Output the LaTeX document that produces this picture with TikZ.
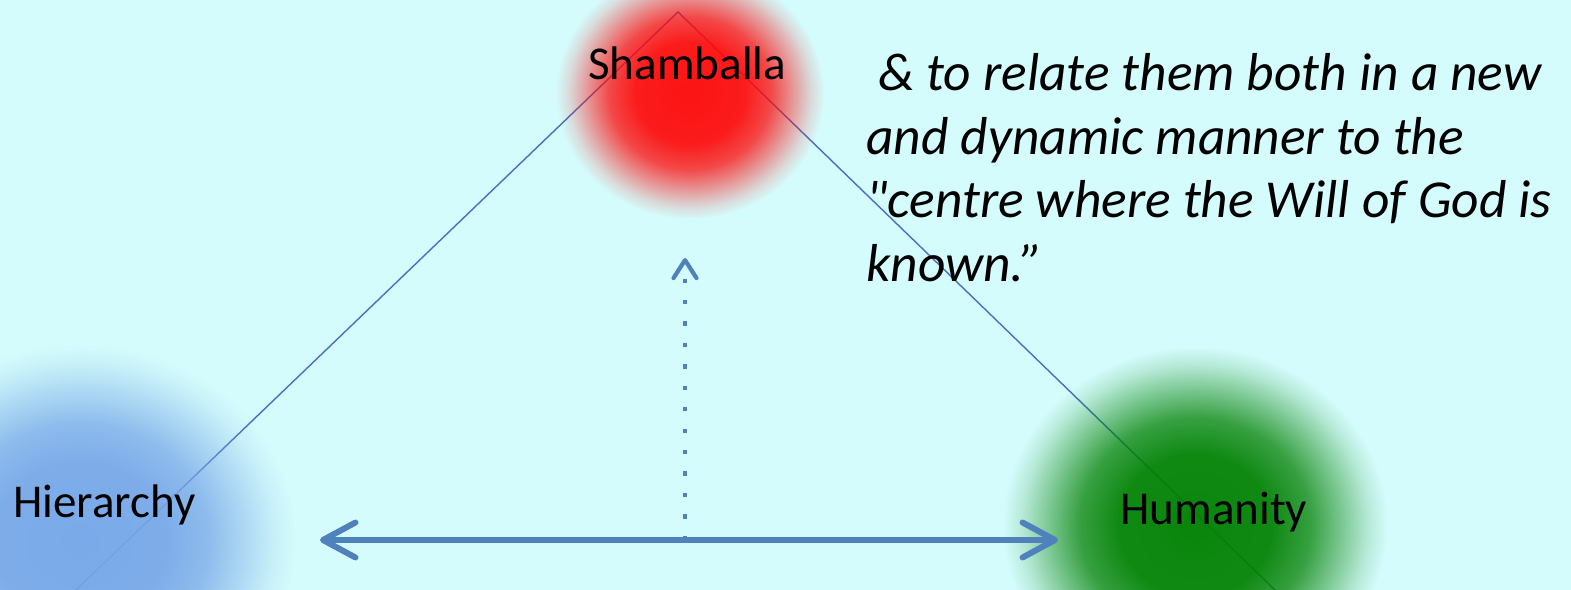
\documentclass[tikz,border=0pt]{standalone}
\usepackage{fontspec}
\setmainfont{Carlito}[Ligatures=TeXOff]
\usepackage{tikz}
\usetikzlibrary{arrows.meta,fadings}
\definecolor{tribg}{RGB}{213,252,252}
\definecolor{triline}{RGB}{72,112,190}
\definecolor{triarrow}{RGB}{79,129,189}
\definecolor{trired}{RGB}{255,8,8}
\definecolor{triblue}{RGB}{118,166,232}
\definecolor{trigreen}{RGB}{0,128,0}

% soft edge for the three glows (path edge sits at 25bp)
\pgfdeclareradialshading{glowmask}{\pgfpoint{0bp}{0bp}}{%
  color(0bp)=(white!95!black); color(10bp)=(white!92!black);
  color(15bp)=(white!74!black); color(19bp)=(white!42!black);
  color(22.5bp)=(white!14!black); color(25bp)=(black); color(50bp)=(black)}
\pgfdeclarefading{glowfade}{\pgfuseshading{glowmask}}

\begin{document}
\begin{tikzpicture}[x=0.02cm, y=-0.02cm,
    tag/.style={font=\fontsize{26.8}{32}\selectfont, inner sep=0pt, anchor=base west},
    note/.style={font=\fontsize{30.4}{36.2}\selectfont\itshape, inner sep=0pt, align=left, anchor=north west},
    edge/.style={draw=triline, line width=0.8pt},
    glow/.style={path fading=glowfade},
    arr/.style={draw=triarrow, line width=3.4pt, {Straight Barb[length=6.5mm,width=7mm,round]}-{Straight Barb[length=6.5mm,width=7mm,round]}},
    dotarr/.style={draw=triarrow, line width=2.4pt, dash pattern=on 2.4pt off 9.8pt, -{Straight Barb[length=3.6mm,width=4.6mm,round]}}
  ]
    \path[use as bounding box, fill=tribg] (0,0) rectangle (1571,590);

    \coordinate (apex) at (678,12);
    \coordinate (leftfoot) at (76,590);
    \coordinate (rightfoot) at (1275,590);
    \draw[edge] (leftfoot) -- (apex) -- (rightfoot);

    \fill[trired, glow] (690,93) ellipse [x radius=134, y radius=126];
    \fill[triblue, glow] (80,540) ellipse [x radius=215, y radius=195];
    \fill[trigreen, glow] (1195,525) ellipse [x radius=192, y radius=178];

    \node[tag] (shamballa) at (588,80) {Shamballa};
    \node[tag] (hierarchy) at (13,518) {Hierarchy};
    \node[tag] (humanity) at (1120,525) {Humanity};

    \coordinate (hierend) at (320,540);
    \coordinate (humend) at (1058,540);
    \draw[arr] (hierend) -- (humend);
    \coordinate (dotfoot) at (685,540);
    \coordinate (dottip) at (685,258);
    \draw[dotarr] (dotfoot) -- (dottip);

    \node[note] (quote) at (866,53) {\hspace*{0.22em}\& to relate them both in a new\\and dynamic manner to the\\"centre where the Will of God is\\known.”};
  \end{tikzpicture}
\end{document}
